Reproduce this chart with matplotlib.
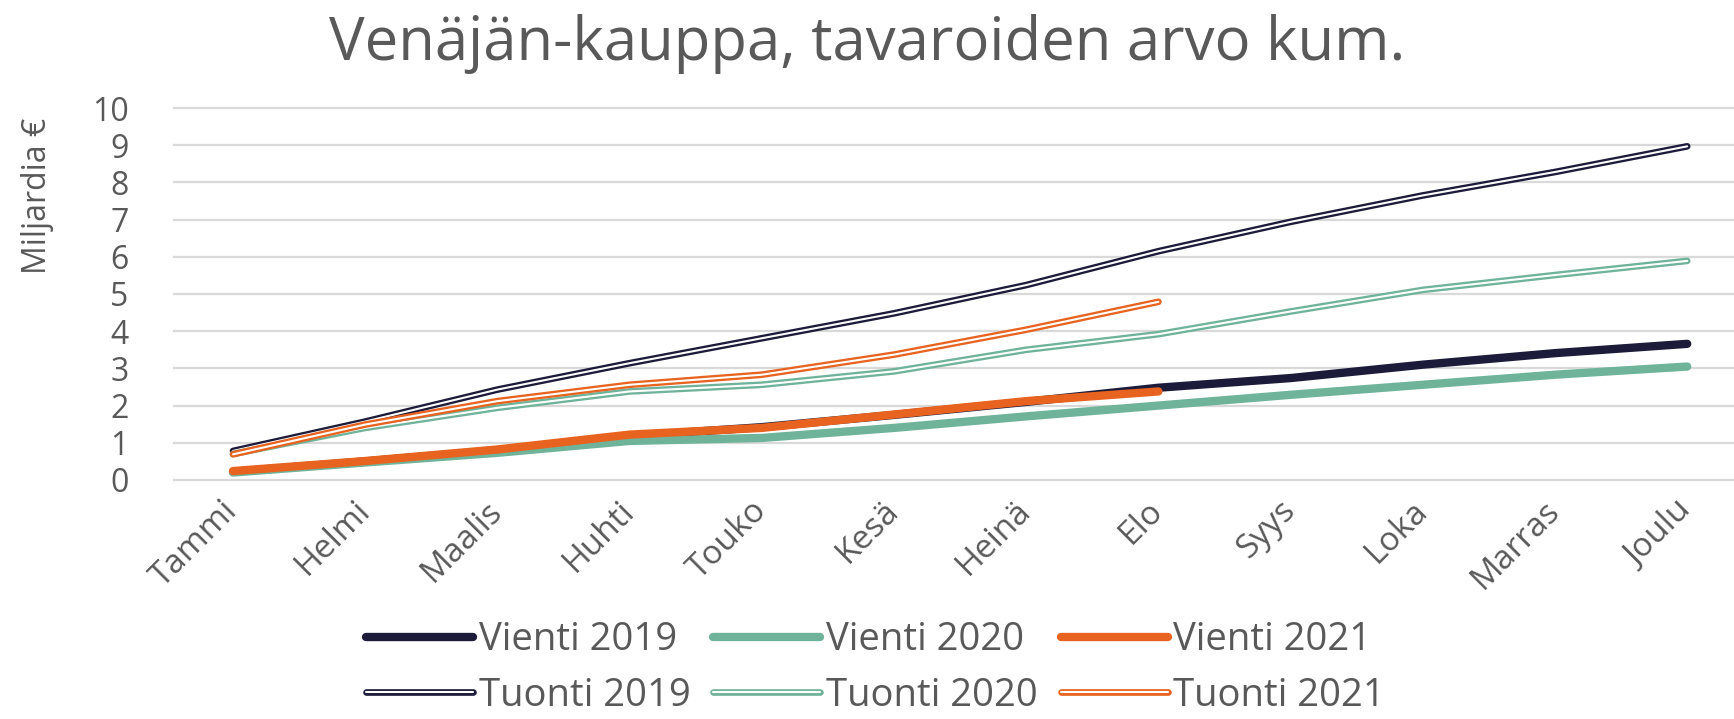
import matplotlib.pyplot as plt
import matplotlib.patheffects as pe

kuukaudet = ["Tammi", "Helmi", "Maalis", "Huhti", "Touko", "Kesä",
             "Heinä", "Elo", "Syys", "Loka", "Marras", "Joulu"]

vienti_2019 = [0.22, 0.50, 0.80, 1.18, 1.42, 1.75, 2.10, 2.48, 2.74, 3.10, 3.41, 3.66]
vienti_2020 = [0.20, 0.47, 0.73, 1.05, 1.13, 1.40, 1.71, 2.00, 2.29, 2.56, 2.83, 3.05]
vienti_2021 = [0.24, 0.51, 0.82, 1.22, 1.40, 1.76, 2.12, 2.38]
tuonti_2019 = [0.78, 1.57, 2.43, 3.14, 3.81, 4.48, 5.24, 6.15, 6.94, 7.65, 8.28, 8.97]
tuonti_2020 = [0.70, 1.40, 1.94, 2.38, 2.56, 2.92, 3.50, 3.92, 4.53, 5.11, 5.51, 5.89]
tuonti_2021 = [0.69, 1.49, 2.12, 2.56, 2.83, 3.37, 4.04, 4.79]

navy = "#1c1b3a"
green = "#6fb39a"
orange = "#e8631f"
grey = "#595959"

fig = plt.figure(figsize=(17.34, 7.19), dpi=100)
ax = fig.add_axes([173 / 1734, 1 - 483.7 / 719, 1 - 173 / 1734, (483.7 - 104.3) / 719])

# vienti: paksu yhtenäinen viiva
for data, col, lab in [(vienti_2019, navy, "Vienti 2019"),
                       (vienti_2020, green, "Vienti 2020"),
                       (vienti_2021, orange, "Vienti 2021")]:
    ax.plot(range(len(data)), data, color=col, lw=6.0, solid_capstyle="round",
            label=lab, zorder=3)

# tuonti: kaksoisviiva (värillinen reuna, valkoinen keskus)
for data, col, lab in [(tuonti_2019, navy, "Tuonti 2019"),
                       (tuonti_2020, green, "Tuonti 2020"),
                       (tuonti_2021, orange, "Tuonti 2021")]:
    ax.plot(range(len(data)), data, color="white", lw=1.5, solid_capstyle="round",
            label=lab, zorder=4,
            path_effects=[pe.Stroke(linewidth=4.8, foreground=col, capstyle="round"),
                          pe.Normal()])

ax.set_xlim(-0.454, 11.354)
ax.set_ylim(-0.1, 10.1)
ax.set_yticks(range(0, 11))
ax.set_xticks(range(12))
ax.set_xticklabels(kuukaudet, rotation=45, ha="right", va="center",
                   rotation_mode="anchor", fontsize=24, color=grey,
                   family="Open Sans")
ax.tick_params(axis="x", length=0, pad=16)
ax.tick_params(axis="y", length=0, pad=32, labelsize=23, labelcolor=grey)
for t in ax.get_yticklabels():
    t.set_family("Open Sans")
ax.grid(axis="y", color="#d9d9d9", lw=1.6)
ax.set_axisbelow(True)
for s in ax.spines.values():
    s.set_visible(False)

fig.text(0.5, 1 - 44 / 719, "Venäjän-kauppa, tavaroiden arvo kum.",
         ha="center", va="center", fontsize=43, color=grey, family="Open Sans")
fig.text(37 / 1734, 1 - 196 / 719, "Miljardia €", rotation=90, ha="center",
         va="center", fontsize=23, color=grey, family="Open Sans")

h, l = ax.get_legend_handles_labels()
order = [0, 3, 1, 4, 2, 5]
fig.legend([h[i] for i in order], [l[i] for i in order], ncol=3,
           loc="center", bbox_to_anchor=(0.505, 1 - 668 / 719), frameon=False,
           handlelength=2.8, handletextpad=0.15, columnspacing=0.6,
           labelspacing=0.45, borderpad=0.1, prop={"family": "Open Sans", "size": 27.5},
           labelcolor=grey)

fig.savefig("out.png", dpi=100)
